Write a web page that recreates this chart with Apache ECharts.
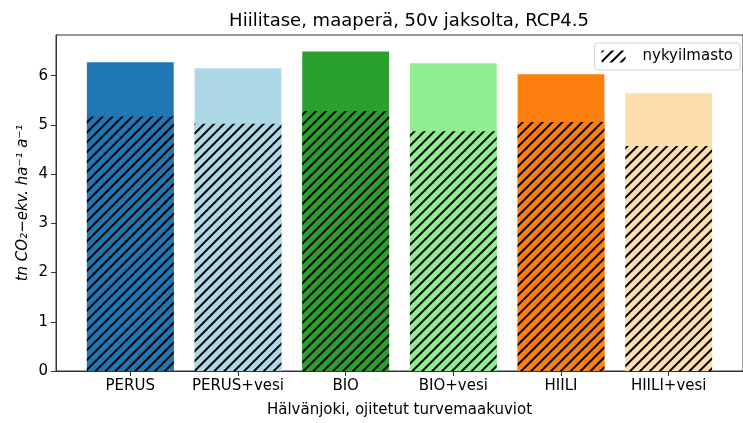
<!DOCTYPE html>
<html>
<head>
<meta charset="utf-8">
<script src="https://cdn.jsdelivr.net/npm/echarts@6/dist/echarts.min.js"></script>
<style>
  html, body { margin: 0; padding: 0; background: #fff; }
  #chart { width: 743px; height: 423px; }
</style>
</head>
<body>
<div id="chart"></div>
<script>
// Scenario names along the x axis
const categories = ['PERUS', 'PERUS+vesi', 'BIO', 'BIO+vesi', 'HIILI', 'HIILI+vesi'];
// Soil carbon balance over the 50-year period, RCP4.5 (tn CO2-ekv./ha/a)
const rcp45Values = [6.27, 6.15, 6.49, 6.25, 6.03, 5.64];
// Same balance under the current climate (hatched part)
const currentClimateValues = [5.17, 5.02, 5.28, 4.87, 5.06, 4.57];
const barColors = ['#1f77b4', '#add8e6', '#2ca02c', '#90ee90', '#ff7f0e', '#ffdead'];
const yTicks = [0, 1, 2, 3, 4, 5, 6];

const chart = echarts.init(document.getElementById('chart'), null, { renderer: 'canvas' });
const font = 'DejaVu Sans';
const hatch = {
  symbol: 'rect',
  symbolSize: 1,
  dashArrayX: [1, 0],
  dashArrayY: [1.1, 4.6],
  rotation: -Math.PI / 4,
  color: '#000'
};

chart.setOption({
  animation: false,
  backgroundColor: '#fff',
  title: {
    text: 'Hiilitase, maaperä, 50v jaksolta, RCP4.5',
    left: 404, top: 7, textAlign: 'center',
    textStyle: { fontFamily: font, fontSize: 18, fontWeight: 'normal', color: '#000' }
  },
  legend: {
    data: ['nykyilmasto'],
    right: 3, top: 43,
    icon: 'rect',
    itemWidth: 24, itemHeight: 12, itemGap: 8,
    padding: [6, 7, 6, 7],
    borderColor: '#d0d0d0', borderWidth: 1, borderRadius: 3,
    backgroundColor: '#fff',
    textStyle: { fontFamily: font, fontSize: 15, color: '#000', padding: [0, 0, 0, 12] }
  },
  grid: {
    left: 56, top: 35, bottom: 51, right: -5,
    show: true, borderColor: '#333', borderWidth: 1, backgroundColor: 'transparent'
  },
  xAxis: {
    type: 'value',
    min: -0.69, max: 5.69,
    name: 'Hälvänjoki, ojitetut turvemaakuviot',
    nameLocation: 'middle', nameGap: 32,
    nameTextStyle: { fontFamily: font, fontSize: 15, color: '#000' },
    axisLine: { show: true, onZero: false, lineStyle: { color: '#333', width: 1 } },
    axisTick: { show: true, customValues: categories.map((c, i) => i), length: 5, lineStyle: { color: '#333' } },
    axisLabel: {
      customValues: categories.map((c, i) => i),
      formatter: v => categories[Math.round(v)] || '',
      fontFamily: font, fontSize: 15, color: '#000', margin: 8
    },
    splitLine: { show: false }
  },
  yAxis: {
    type: 'value',
    min: 0, max: 6.825,
    name: 'tn CO₂−ekv. ha⁻¹ a⁻¹',
    nameLocation: 'middle', nameGap: 25, nameRotate: 90,
    nameMoveOverlap: false,
    nameTextStyle: { fontFamily: font, fontSize: 15, fontStyle: 'italic', color: '#000' },
    axisLine: { show: true, onZero: false, lineStyle: { color: '#333', width: 1 } },
    axisTick: { show: true, customValues: yTicks, length: 5, lineStyle: { color: '#333' } },
    axisLabel: {
      customValues: yTicks,
      fontFamily: font, fontSize: 15, color: '#000', margin: 8
    },
    splitLine: { show: false }
  },
  series: [
    {
      name: 'RCP4.5',
      type: 'bar',
      barWidth: 86.8,
      barGap: '-100%',
      data: rcp45Values.map((v, i) => ({ value: [i, v], itemStyle: { color: barColors[i] } })),
      z: 2
    },
    {
      name: 'nykyilmasto',
      type: 'bar',
      barWidth: 86.8,
      barGap: '-100%',
      itemStyle: { color: '#fff', decal: hatch },
      data: currentClimateValues.map((v, i) => ({ value: [i, v], itemStyle: { color: barColors[i], decal: hatch } })),
      z: 3
    }
  ]
});
</script>
</body>
</html>
